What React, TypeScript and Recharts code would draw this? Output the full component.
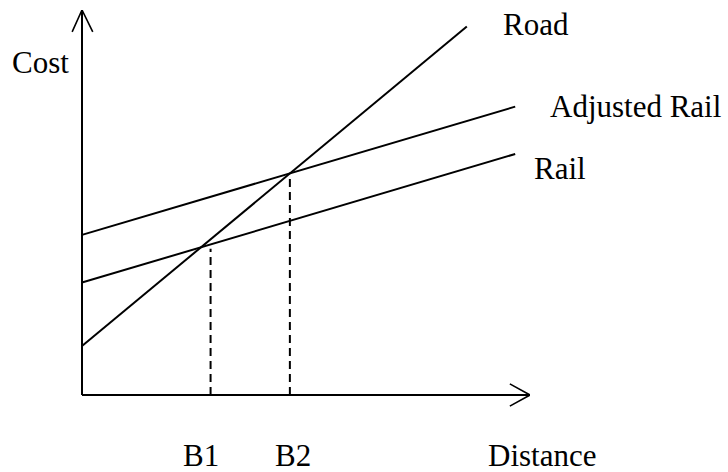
import React from "react";
import { LineChart, Line, XAxis, YAxis } from "recharts";

// Distance (x) and cost (y) in arbitrary units
const lineDistance = [0, 96.7];
const roadDistance = [0, 85.9];
const roadCost = [12.7, 95.7];
const railCost = [29.2, 62.6];
const adjustedRailCost = [41.6, 74.9];
const breakEvenLabels = ["B1", "B2"];
const breakEvenDistance = [28.7, 46.4];
const breakEvenCost = [38, 57.7];
const seriesLabels = ["Road", "Adjusted Rail", "Rail"];
const axisLabels = ["Cost", "Distance"];

const toPoints = (xs: number[], ys: number[]) => xs.map((x, i) => ({ x, y: ys[i] }));

const roadData = toPoints(roadDistance, roadCost);
const railData = toPoints(lineDistance, railCost);
const adjData = toPoints(lineDistance, adjustedRailCost);
const b1Data = toPoints([breakEvenDistance[0], breakEvenDistance[0]], [0, breakEvenCost[0]]);
const b2Data = toPoints([breakEvenDistance[1], breakEvenDistance[1]], [0, breakEvenCost[1]]);
const yAxisData = toPoints([0, 0], [0, 100]);
const xAxisData = toPoints([0, 100], [0, 0]);
const yArrow = toPoints([-2.2, 0, 2.4], [94.3, 100, 94.3]);
const xArrow = toPoints([95.5, 100, 95.5], [2.9, 0, -2.9]);

const W = 728;
const H = 472;
const margin = { top: 10, right: 198, bottom: 38.5, left: 37.2 };
const FONT = "Liberation Serif";

const lineProps = {
  dataKey: "y",
  stroke: "#000",
  strokeWidth: 2,
  dot: false,
  activeDot: false,
  isAnimationActive: false,
  type: "linear" as const,
};

export default function App() {
  const t = { fontFamily: FONT, fontSize: 31, fill: "#000" };
  return (
    <div style={{ position: "absolute", left: 0, top: 0, width: W, height: H, background: "#fff" }}>
      <LineChart width={W} height={H} margin={margin}>
        <XAxis type="number" dataKey="x" domain={[-10, 100]} hide allowDataOverflow />
        <YAxis type="number" dataKey="y" domain={[-10, 100]} hide allowDataOverflow />
        <Line {...lineProps} data={yAxisData} />
        <Line {...lineProps} data={xAxisData} />
        <Line {...lineProps} data={yArrow} strokeWidth={1.6} />
        <Line {...lineProps} data={xArrow} strokeWidth={1.6} />
        <Line {...lineProps} data={roadData} />
        <Line {...lineProps} data={adjData} />
        <Line {...lineProps} data={railData} />
        <Line {...lineProps} data={b1Data} strokeDasharray="8 5" />
        <Line {...lineProps} data={b2Data} strokeDasharray="8 5" />
        <text x={12} y={73} {...t}>{axisLabels[0]}</text>
        <text x={488} y={466} {...t}>{axisLabels[1]}</text>
        <text x={503} y={35} {...t}>{seriesLabels[0]}</text>
        <text x={550} y={117} {...t}>{seriesLabels[1]}</text>
        <text x={534} y={179} {...t}>{seriesLabels[2]}</text>
        <text x={183} y={466} {...t}>{breakEvenLabels[0]}</text>
        <text x={275} y={466} {...t}>{breakEvenLabels[1]}</text>
      </LineChart>
    </div>
  );
}
